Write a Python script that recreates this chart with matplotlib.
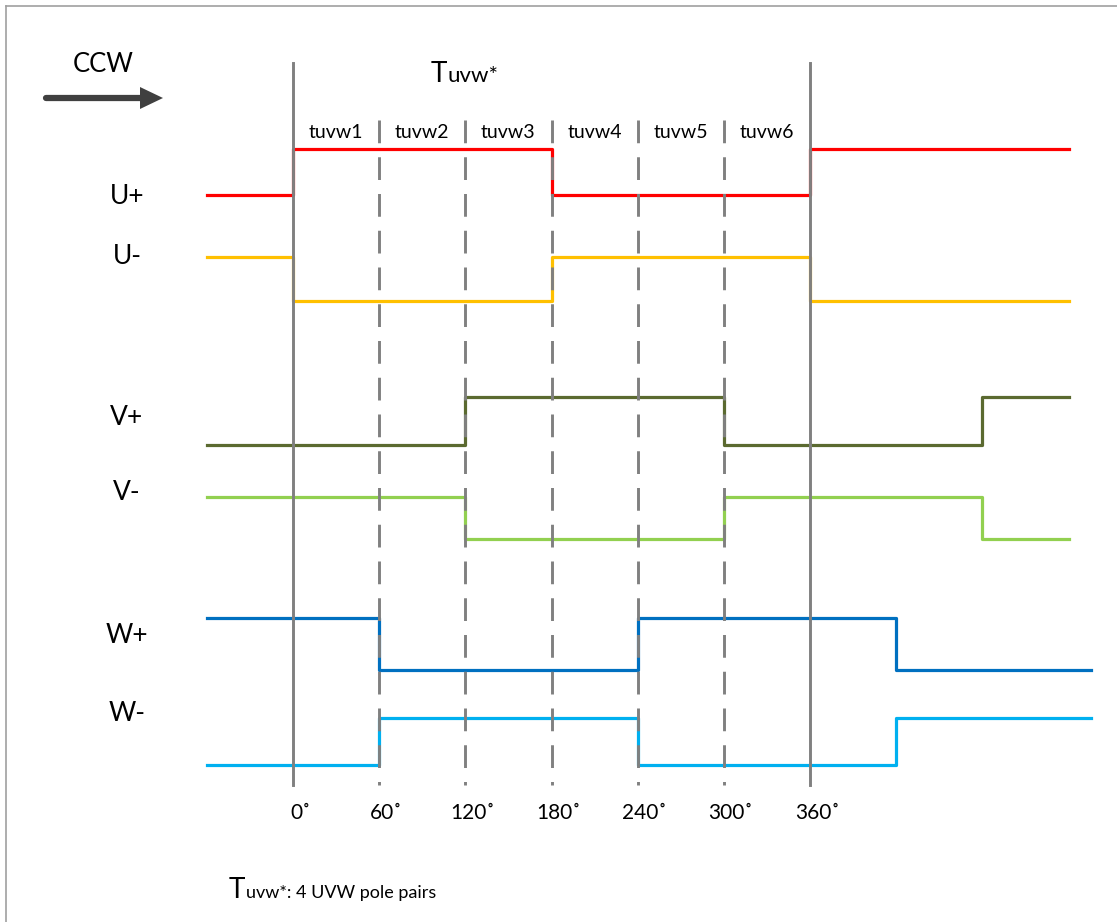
import matplotlib.pyplot as plt
from matplotlib.patches import Polygon

# switching angles (deg) and on/off states for each hall signal
names = ['U+', 'U-', 'V+', 'V-', 'W+', 'W-']
edges = {
    'U+': [-60, 0, 180, 360, 540],
    'U-': [-60, 0, 180, 360, 540],
    'V+': [-60, 120, 300, 480, 540],
    'V-': [-60, 120, 300, 480, 540],
    'W+': [-60, 60, 240, 420, 556],
    'W-': [-60, 60, 240, 420, 556],
}
states = {
    'U+': [0, 1, 0, 1],
    'U-': [1, 0, 1, 0],
    'V+': [0, 1, 0, 1],
    'V-': [1, 0, 1, 0],
    'W+': [1, 0, 1, 0],
    'W-': [0, 1, 0, 1],
}
colors = ['#ff0000', '#ffc000', '#5b6a30', '#92d050', '#0070c0', '#00b0f0']
angles = [0, 60, 120, 180, 240, 300, 360]
angle_labels = ['0˚', '60˚', '120˚', '180˚', '240˚', '300˚', '360˚']
seg_labels = ['tuvw1', 'tuvw2', 'tuvw3', 'tuvw4', 'tuvw5', 'tuvw6']

# layout: pixel rows for the low level and height of each trace
low_y = [195, 301, 445, 539, 670, 765]
amp = [46, 44, 48, 42, 52, 47]
label_y = [196, 256, 417, 492, 635, 713]

W, H = 1117, 922
x0, scale = 293, 517 / 360.0   # pixel of 0 deg, pixels per degree


def deg(px):
    return (px - x0) / scale


fig = plt.figure(figsize=(W / 100, H / 100), dpi=100)
ax = fig.add_axes([0, 0, 1, 1])
ax.set_xlim(deg(0), deg(W))
ax.set_ylim(H, 0)
ax.axis('off')
font = ['Lato', 'DejaVu Sans']

# frame
ax.plot([deg(6)] * 2, [6, H], color='#a0a0a0', lw=1.2)
ax.plot([deg(6), deg(W)], [6, 6], color='#a0a0a0', lw=1.2)

# signal traces
for i, n in enumerate(names):
    xs = edges[n]
    ys = [low_y[i] - s * amp[i] for s in states[n]]
    ys = ys + [ys[-1]]
    ax.step(xs, ys, where='post', color=colors[i], lw=2.3, zorder=2)
    ax.text(deg(127), label_y[i], n, fontsize=19, family=font,
            ha='center', va='center')

# angle markers
for a in angles:
    if a in (0, 360):
        ax.plot([a, a], [63, 785], color='#808080', lw=2.1, zorder=3)
    else:
        ax.plot([a, a], [120, 785], color='#808080', lw=2.1, zorder=3,
                dashes=(7.8, 4.8))
for a, lab in zip(angles, angle_labels):
    ax.text(a + 5, 813, lab, fontsize=15, family=font, ha='center', va='center')
for k, lab in enumerate(seg_labels):
    ax.text(angles[k] + 30, 133, lab, fontsize=14, family=font,
            ha='center', va='center')

# period label
ax.text(deg(431), 82, 'T', fontsize=20, family=font, ha='left', va='baseline')
ax.text(deg(448), 82, 'uvw*', fontsize=16, family=font, ha='left', va='baseline')

# direction arrow
ax.text(deg(103), 65, 'CCW', fontsize=18.5, family=font, ha='center', va='center')
ax.plot([deg(46), deg(142)], [98, 98], color='#404040', lw=4.5,
        solid_capstyle='round')
ax.add_patch(Polygon([[deg(140), 87], [deg(163), 98], [deg(140), 109]],
                     closed=True, color='#404040', lw=0))

# footnote
ax.text(deg(229), 898, 'T', fontsize=20, family=font, ha='left', va='baseline')
ax.text(deg(246), 898, 'uvw*: 4 UVW pole pairs', fontsize=13, family=font,
        ha='left', va='baseline')

fig.savefig('out.png', dpi=100)
